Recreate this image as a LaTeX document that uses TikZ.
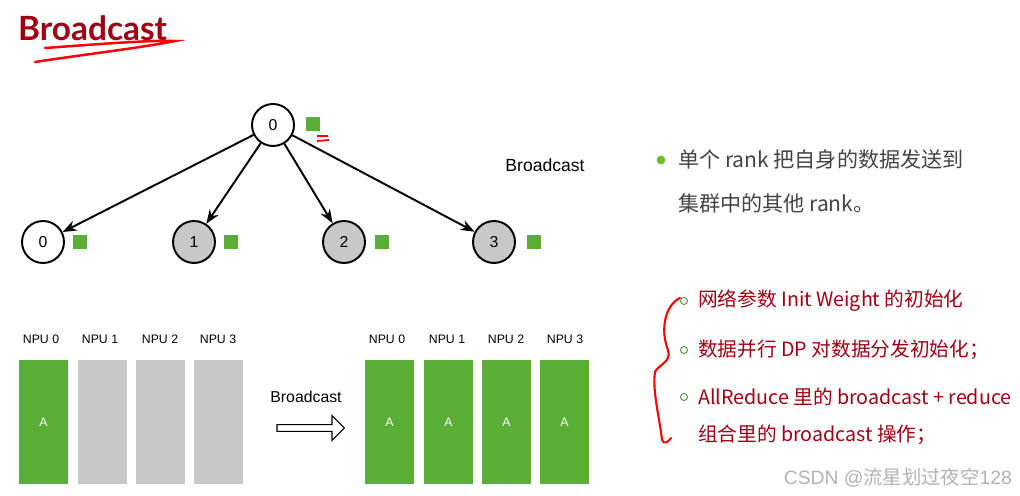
\documentclass[tikz,border=0pt]{standalone}
\usepackage{fontspec}
\setmainfont{Lato}
\setsansfont{Liberation Sans}
\newfontfamily\cjk{Noto Sans CJK SC}
\usetikzlibrary{arrows.meta,shapes.arrows}
\definecolor{grn}{HTML}{5AAD35}
\definecolor{gry}{HTML}{C8C8C8}
\definecolor{dred}{HTML}{A00012}
\definecolor{txt}{HTML}{444444}
\begin{document}
\begin{tikzpicture}[x=0.02cm,y=-0.02cm,
  nd/.style={circle,draw,line width=1.1pt,minimum size=0.84cm,inner sep=0pt,font=\sffamily\small},
  gnd/.style={nd,fill=gry},
  sq/.style={fill=grn,minimum size=0.28cm,inner sep=0pt},
  bar/.style={minimum width=0.98cm,minimum height=2.5cm,inner sep=0pt,font=\sffamily\scriptsize,text=white},
  gbar/.style={bar,fill=grn},
  ybar/.style={bar,fill=gry},
  npu/.style={font=\sffamily\scriptsize},
  arr/.style={-{Stealth[length=8pt,width=6pt]},line width=1.1pt},
  rt/.style={anchor=west,text=dred,font=\cjk\fontsize{11.2}{14}\selectfont},
  gt/.style={anchor=west,text=txt,font=\cjk\fontsize{12}{14}\selectfont},
  rb/.style={circle,draw=grn!80!black,line width=0.5pt,minimum size=4pt,inner sep=0pt}]
\useasboundingbox (0,0) rectangle (1020,496);
% title
\node[anchor=west,text=dred,font=\bfseries\fontsize{19}{22}\selectfont] (title) at (12,28) {Broadcast};
\draw[red,line width=1.4pt,line cap=round] (45,48) .. controls (100,44) and (150,40) .. (175,41) .. controls (140,48) and (80,55) .. (35,62);
% tree
\node[nd] (r) at (273,125) {0};
\node[sq] (rs) at (313,124) {};
\draw[red,line width=1pt] (317,136) -- (328,136) (317,141) -- (329,140);
\node[nd] (c0) at (43,242) {0};
\node[gnd] (c1) at (194,242) {1};
\node[gnd] (c2) at (344,242) {2};
\node[gnd] (c3) at (494,242) {3};
\node[sq] (s0) at (80,242) {};
\node[sq] (s1) at (231,242) {};
\node[sq] (s2) at (382,242) {};
\node[sq] (s3) at (534,242) {};
\foreach \c in {c0,c1,c2,c3} \draw[arr] (r) -- (\c);
\node[font=\sffamily] (bl) at (545,165) {Broadcast};
% right text
\node[circle,fill=grn!80!lime,minimum size=5pt,inner sep=0pt] (b1) at (661,160) {};
\node[gt] (t1) at (672,160) {单个 rank 把自身的数据发送到};
\node[gt] (t2) at (672,203) {集群中的其他 rank。};
% bars
\foreach \x/\n in {41/0,100/1,160/2,218/3} \node[npu] (nl\n) at (\x,339) {NPU \n};
\foreach \x/\n in {387/0,447/1,506/2,565/3} \node[npu] (nr\n) at (\x,339) {NPU \n};
\node[gbar] (l0) at (43.5,422) {A};
\node[ybar] (l1) at (102.5,422) {};
\node[ybar] (l2) at (160.5,422) {};
\node[ybar] (l3) at (218.5,422) {};
\node[gbar] (m0) at (389.5,422) {A};
\node[gbar] (m1) at (448.5,422) {A};
\node[gbar] (m2) at (506.5,422) {A};
\node[gbar] (m3) at (564.5,422) {A};
\node[single arrow,draw,line width=0.6pt,minimum height=1.35cm,minimum width=0.5cm,single arrow head extend=0.12cm,inner sep=1pt] (ba) at (309,428) {};
\node[font=\sffamily\small] (bl2) at (306,397) {Broadcast};
% red bullets
\node[rb] (r1) at (684,301) {};
\node[rb] (r2) at (684,350) {};
\node[rb] (r3) at (684,397) {};
\node[rt] (u1) at (692,301) {网络参数 Init Weight 的初始化};
\node[rt] (u2) at (692,350) {数据并行 DP 对数据分发初始化；};
\node[rt] (u3) at (692,397) {AllReduce 里的 broadcast + reduce};
\node[rt] (u4) at (692,435) {组合里的 broadcast 操作；};
\draw[red,line width=1.2pt,line cap=round] (680,298) .. controls (665,305) and (660,330) .. (668,350) .. controls (672,362) and (658,365) .. (655,372) .. controls (652,390) and (660,420) .. (662,440) .. controls (664,445) and (668,442) .. (671,438);
\node[text=gray!60,font=\sffamily\fontsize{11}{12}\selectfont,anchor=east] (wm) at (1018,478) {CSDN @{\cjk 流星划过夜空}128};
\end{tikzpicture}
\end{document}
